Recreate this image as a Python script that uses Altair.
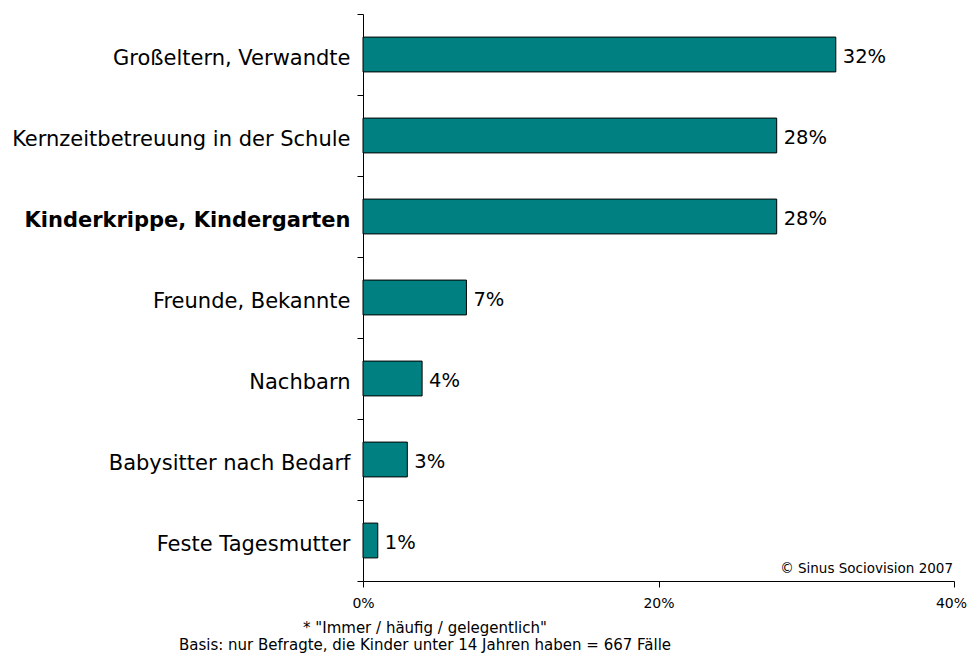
import altair as alt
import pandas as pd

categories = [
    "Großeltern, Verwandte",
    "Kernzeitbetreuung in der Schule",
    "Kinderkrippe, Kindergarten",
    "Freunde, Bekannte",
    "Nachbarn",
    "Babysitter nach Bedarf",
    "Feste Tagesmutter",
]
values = [32, 28, 28, 7, 4, 3, 1]
labels = ["32%", "28%", "28%", "7%", "4%", "3%", "1%"]
highlight = "Kinderkrippe, Kindergarten"
copyright_text = "© Sinus Sociovision 2007"
footnote_lines = ['* "Immer / häufig / gelegentlich"',
                  "Basis: nur Befragte, die Kinder unter 14 Jahren haben = 667 Fälle"]

df = pd.DataFrame({"cat": categories, "val": values, "lab": labels})

FONT = "DejaVu Sans"

y_enc = alt.Y("cat:N", sort=categories, title=None,
              scale=alt.Scale(paddingInner=0, paddingOuter=0),
              axis=alt.Axis(tickBand="extent", labelFontSize=21, labelFont=FONT,
                            labelColor="black", labelPadding=7, tickSize=6,
                            tickColor="black", domainColor="black", labelOffset=4,
                            labelFontWeight={"expr": f"datum.value == '{highlight}' ? 'bold' : 'normal'"},
                            labelLimit=400))
x_enc = alt.X("val:Q", title=None,
              scale=alt.Scale(domain=[0, 40], nice=False),
              axis=alt.Axis(values=[0, 20, 40], labelExpr="datum.value + '%'",
                            labelFontSize=14, labelFont=FONT, labelColor="black",
                            grid=False, tickSize=6, tickColor="black",
                            domainColor="black", labelPadding=9, labelFlush=False,
                            labelOffset={"expr": "datum.value == 40 ? -3 : 0"}))

bars = alt.Chart(df).mark_bar(color="#008080", stroke="black", strokeWidth=1,
                              height={"band": 0.43}).encode(y=y_enc, x=x_enc)

texts = alt.Chart(df).mark_text(align="left", baseline="middle", dx=7, dy=2, fontSize=19.5,
                                font=FONT, color="black").encode(
    y=alt.Y("cat:N", sort=categories), x="val:Q", text="lab:N")

copy_mark = alt.Chart(pd.DataFrame({"t": [copyright_text]})).mark_text(
    align="right", baseline="middle", fontSize=13.5, font=FONT, color="black").encode(
    x=alt.value(590), y=alt.value(555), text="t:N")

foot1 = alt.Chart(pd.DataFrame({"t": [footnote_lines[0]]})).mark_text(
    align="center", baseline="middle", fontSize=15, font=FONT, color="black").encode(
    x=alt.value(62), y=alt.value(614), text="t:N")
foot2 = alt.Chart(pd.DataFrame({"t": [footnote_lines[1]]})).mark_text(
    align="center", baseline="middle", fontSize=15, font=FONT, color="black").encode(
    x=alt.value(62), y=alt.value(631), text="t:N")

chart = alt.layer(bars, texts, copy_mark, foot1, foot2).properties(
    width=591, height=567,
    background="white",
    autosize=alt.AutoSizeParams(type="none"),
    padding={"left": 355, "top": 6, "right": 13, "bottom": 72},
).configure_view(stroke=None)

chart.save("out.html", embed_options={"renderer": "svg", "actions": False})
